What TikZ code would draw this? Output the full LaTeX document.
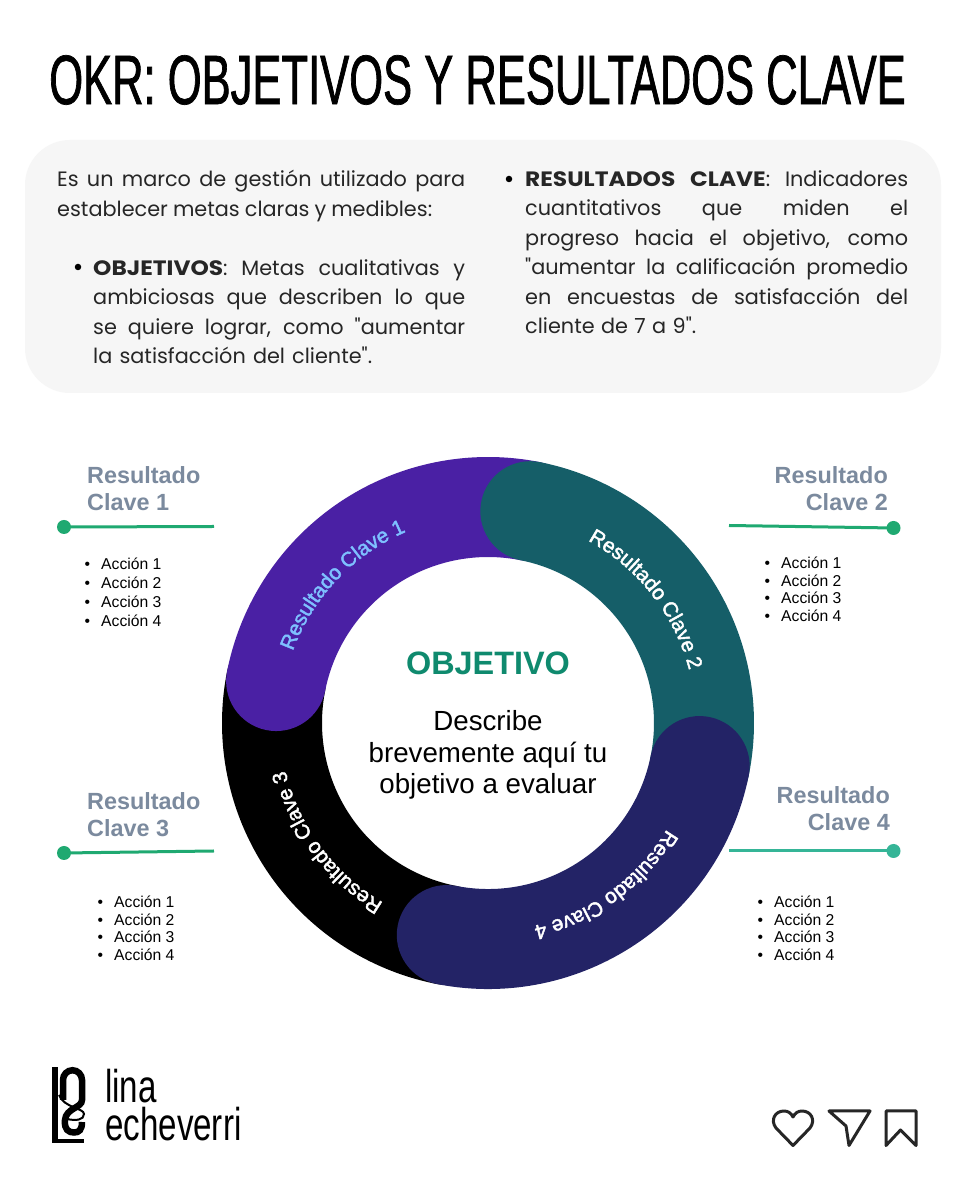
\documentclass[tikz,border=0pt]{standalone}
\usepackage{fontspec}
\usetikzlibrary{decorations.text}
\setmainfont{Liberation Sans}
\newfontfamily\titlef[FakeStretch=0.622,FakeBold=1]{Liberation Sans}
\newfontfamily\logof[FakeStretch=0.72]{Liberation Sans}
\newfontfamily\ringf[FakeBold=2]{Liberation Sans}
\newfontfamily\bodyf{Poppins}
\newfontfamily\bodyb[FakeStretch=1.12]{Poppins Bold}
\definecolor{purp}{HTML}{4A20A4}
\definecolor{tealr}{HTML}{155E68}
\definecolor{navyr}{HTML}{232366}
\definecolor{lblue}{HTML}{7EC0FF}
\definecolor{lgray}{HTML}{7B8A9E}
\definecolor{lgreen}{HTML}{1FA971}
\definecolor{lmint}{HTML}{35B597}
\definecolor{ogreen}{HTML}{0F8A6E}
\definecolor{panelc}{HTML}{F6F6F6}
\newcommand{\jl}[2]{\leavevmode\hbox to #1pt{\spaceskip=.3333em plus 1fil minus 1fil\relax #2}}
\newcommand{\acc}[1]{\makebox[16.5pt][l]{\textbullet}Acción #1}
\newcommand{\alist}{\acc{1}\\\acc{2}\\\acc{3}\\\acc{4}}
\tikzset{
  x=1pt,y=1pt,
  seg/.style={line width=100pt,line cap=round},
  body/.style={anchor=north west,inner sep=0pt,align=left,font=\bodyf\fontsize{20.8}{29.5}\selectfont,text=black!85},
  blt/.style={circle,fill=black,inner sep=0pt,minimum size=6.5pt},
  rlabel/.style={inner sep=0pt,font=\bfseries\fontsize{23.4}{27}\selectfont,text=lgray},
  alst/.style={anchor=north west,inner sep=0pt,align=left,font=\fontsize{15.7}{19}\selectfont},
  alsttight/.style={alst,font=\fontsize{15.7}{17.6}\selectfont},
  dot/.style={circle,inner sep=0pt,minimum size=14pt},
  ringtext/.style={decorate,decoration={text along path,text align=center,raise=0pt}},
  icon/.style={draw=black!85,line width=3pt,line join=round,line cap=round},
}
\begin{document}
\begin{tikzpicture}
\useasboundingbox (0,0) rectangle (960,1200);
\fill[white] (0,0) rectangle (960,1200);
% title
\node (title) at (477.5,1120) [inner sep=0pt,font=\titlef\fontsize{70}{70}\selectfont] {OKR: OBJETIVOS Y RESULTADOS CLAVE};
% panel
\fill[panelc,rounded corners=45pt] (25,807) rectangle (941,1060);
\node (p1) at (57,1030) [body,text width=408pt] {\jl{408}{Es un marco de gestión utilizado para}\\\jl{375}{establecer metas claras y medibles:}};
\node (p2) at (93,941) [body,text width=372pt] {\jl{372}{{\bodyb OBJETIVOS}: Metas cualitativas y}\\\jl{372}{ambiciosas que describen lo que}\\\jl{372}{se quiere lograr, como "aumentar}\\\jl{279}{la satisfacción del cliente".}};
\node (b2) at (78,933) [blt] {};
\node (p3) at (525,1030) [body,text width=383pt] {\jl{383}{{\bodyb RESULTADOS CLAVE}: Indicadores}\\\jl{383}{cuantitativos que miden el}\\\jl{383}{progreso hacia el objetivo, como}\\\jl{383}{"aumentar la calificación promedio}\\\jl{383}{en encuestas de satisfacción del}\\\jl{171}{cliente de 7 a 9".}};
\node (b3) at (509,1021) [blt] {};
% ring
\coordinate (c) at (488,477);
\draw[seg,black] (c) ++(168.8:216) arc[start angle=168.8,end angle=259,radius=216];
\draw[seg,purp] (c) ++(168.8:216) arc[start angle=168.8,end angle=78.7,radius=216];
\draw[seg,tealr] (c) ++(78.7:216) arc[start angle=78.7,end angle=-11.5,radius=216];
\draw[seg,navyr] (c) ++(-11.5:216) arc[start angle=-11.5,end angle=-101,radius=216];
% ring labels
\path[ringtext,decoration={text={|\ringf\fontsize{20.7}{20.7}\selectfont\color{lblue}|Resultado Clave 1}}] (c) ++(176.5:208) arc[start angle=176.5,end angle=96.5,radius=208];
\path[ringtext,decoration={text={|\ringf\fontsize{20.7}{20.7}\selectfont\color{white}|Resultado Clave 2}}] (c) ++(78:208) arc[start angle=78,end angle=-2,radius=208];
\path[ringtext,decoration={text={|\ringf\fontsize{20.7}{20.7}\selectfont\color{white}|Resultado Clave 3}}] (c) ++(256.5:208) arc[start angle=256.5,end angle=176.5,radius=208];
\path[ringtext,decoration={text={|\ringf\fontsize{20.7}{20.7}\selectfont\color{white}|Resultado Clave 4}}] (c) ++(-14:208) arc[start angle=-14,end angle=-94,radius=208];
% centre
\node (obj) at (488,537) [inner sep=0pt,font=\bfseries\fontsize{32.4}{32.4}\selectfont,text=ogreen] {OBJETIVO};
\node (desc) at (488,445) [inner sep=0pt,align=center,font=\fontsize{27.7}{31.5}\selectfont] {Describe\\brevemente aquí tu\\objetivo a evaluar};
% side labels
\node (r1) at (87,734) [rlabel,anchor=north west,align=left] {Resultado\\Clave 1};
\node (r2) at (888,734) [rlabel,anchor=north east,align=right] {Resultado\\Clave 2};
\node (r3) at (87,408) [rlabel,anchor=north west,align=left] {Resultado\\Clave 3};
\node (r4) at (890,414) [rlabel,anchor=north east,align=right] {Resultado\\Clave 4};
% leader lines
\coordinate (e1) at (214,673.5);
\coordinate (e2) at (729,674.5);
\coordinate (e3) at (214,349);
\coordinate (e4) at (729,349);
\node (d1) at (64,673) [dot,fill=lgreen] {};
\node (d2) at (893.5,672) [dot,fill=lgreen] {};
\node (d3) at (64,347) [dot,fill=lgreen] {};
\node (d4) at (893.5,349) [dot,fill=lmint] {};
\draw[lgreen,line width=3pt] (d1.center) -- (e1);
\draw[lgreen,line width=3pt] (d2.center) -- (e2);
\draw[lgreen,line width=3pt] (d3.center) -- (e3);
\draw[lmint,line width=3pt] (d4.center) -- (e4);
% action lists
\node (a1) at (84.5,642) [alst] {\alist};
\node (a2) at (764.5,643) [alsttight] {\alist};
\node (a3) at (97.5,304) [alsttight] {\alist};
\node (a4) at (757.5,304) [alsttight] {\alist};
% logo mark
\fill[black] (52,57) rectangle (58,133);
\fill[black] (52,57) rectangle (84,61);
\draw[line width=6.5pt] (63,100) -- (63,120) arc[start angle=180,end angle=0,x radius=9.5,y radius=9.75] -- (82,100) .. controls (82,92) and (66,92) .. (65,80) .. controls (64,70) and (69,67.5) .. (74,67.5) .. controls (79,67.5) and (82,70) .. (82,78);
\draw[line width=2pt] (59,105) .. controls (64,92) and (84,92) .. (84,86) .. controls (84,80) and (76,79) .. (67,81);
% logo text
\node (l1) at (105,97) [anchor=base west,inner sep=0pt,font=\logof\fontsize{46}{46}\selectfont] {lina};
\node (l2) at (105,59) [anchor=base west,inner sep=0pt,font=\logof\fontsize{46}{46}\selectfont] {echeverri};
% icons
\draw[icon] (793,54.5) -- (776,72) .. controls (770,80) and (775,89) .. (784,89) .. controls (788,89) and (791,87) .. (793,83) .. controls (795,87) and (798,89) .. (802,89) .. controls (811,89) and (816,80) .. (810,72) -- cycle;
\draw[icon] (829,89) -- (870,89) -- (849,54.5) -- (846,74) -- cycle;
\draw[icon] (886,89) -- (916,89) -- (916,54.5) -- (900.5,70) -- (886,54.5) -- cycle;
\end{tikzpicture}
\end{document}
